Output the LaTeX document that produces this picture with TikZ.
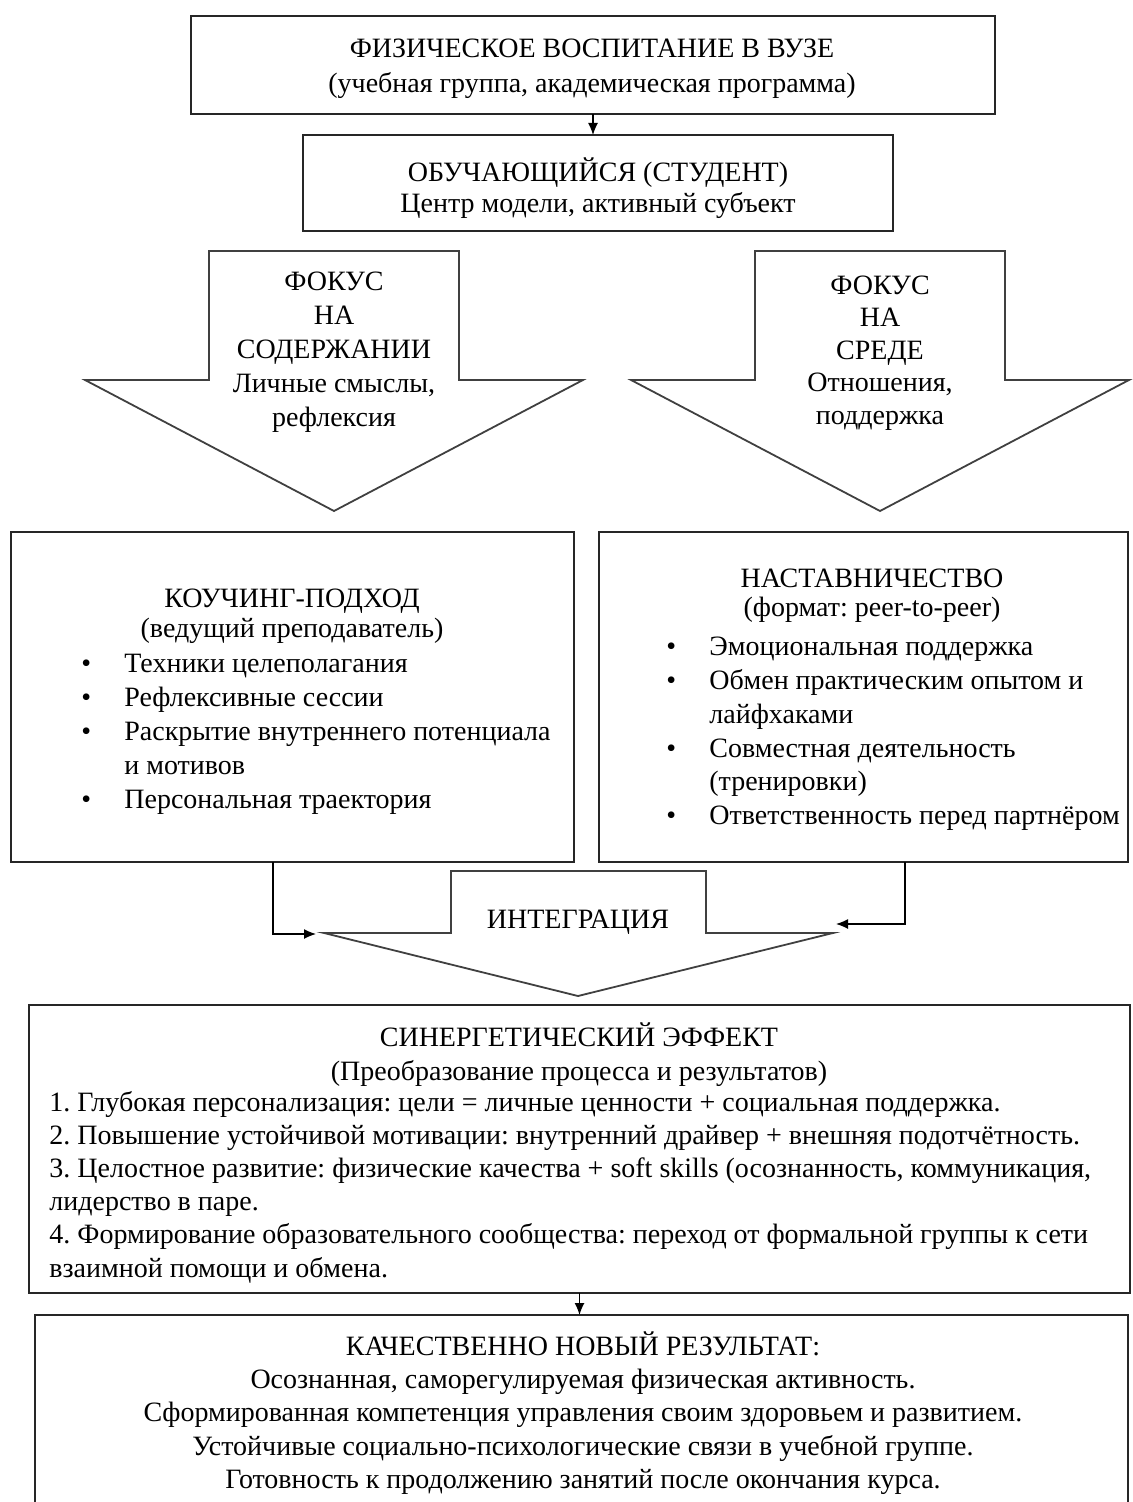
\documentclass[tikz,border=0pt]{standalone}
\usepackage{fontspec}
\setmainfont{Liberation Serif}
\usetikzlibrary{arrows.meta}
\frenchspacing
\begin{document}
\begin{tikzpicture}[x=0.5pt,y=-0.5pt,
  box/.style={draw=black!85, line width=0.75pt, inner sep=0pt, outer sep=0pt},
  blockarrow/.style={draw=black!75, line width=0.9pt, line join=miter},
  conn/.style={draw=black, line width=0.65pt, -{Latex[length=6pt,width=5pt]}},
  txt/.style={inner sep=0pt, align=center},
  lst/.style={inner sep=0pt, align=left, anchor=west}
]
\useasboundingbox (0,0) rectangle (1132,1502);

% top boxes
\node[box, minimum width=402pt, minimum height=49pt] (phys) at (593,65) {};
\node[txt, font=\fontsize{14}{17.5}\selectfont] (physT) at (592,69)
  {ФИЗИЧЕСКОЕ ВОСПИТАНИЕ В ВУЗЕ\\(учебная группа, академическая программа)};
\node[box, minimum width=295pt, minimum height=48pt] (stud) at (598,183) {};
\node[txt, font=\fontsize{14}{15.5}\selectfont] (studT) at (598,188)
  {ОБУЧАЮЩИЙСЯ (СТУДЕНТ)\\Центр модели, активный субъект};
\draw[conn] (phys.south) -- (phys.south |- stud.north);

% focus block arrows
\draw[blockarrow] (209,251) -- (459,251) -- (459,380) -- (583,380) -- (334,511)
  -- (85,380) -- (209,380) -- cycle;
\node[txt, font=\fontsize{14}{17}\selectfont] (focL) at (334,352)
  {ФОКУС\\НА\\СОДЕРЖАНИИ\\Личные смыслы,\\рефлексия};
\draw[blockarrow] (755,251) -- (1005,251) -- (1005,380) -- (1129,380) -- (880,511)
  -- (631,380) -- (755,380) -- cycle;
\node[txt, font=\fontsize{14}{16.3}\selectfont] (focR) at (880,353)
  {ФОКУС\\НА\\СРЕДЕ\\Отношения,\\поддержка};

% coaching / mentoring
\node[box, minimum width=281.5pt, minimum height=165pt] (coach) at (292.5,697) {};
\node[txt, font=\fontsize{14}{15}\selectfont] (coachH) at (292,616)
  {КОУЧИНГ-ПОДХОД\\(ведущий преподаватель)};
\node[lst, font=\fontsize{14}{17}\selectfont] (coachL) at (81,734)
  {\makebox[21.5pt][l]{•}Техники целеполагания\\
   \makebox[21.5pt][l]{•}Рефлексивные сессии\\
   \makebox[21.5pt][l]{•}Раскрытие внутреннего потенциала\\
   \hspace*{21.5pt}и мотивов\\
   \makebox[21.5pt][l]{•}Персональная траектория};

\node[box, minimum width=264.5pt, minimum height=165pt] (ment) at (863.5,697) {};
\node[txt, font=\fontsize{14}{14.5}\selectfont] (mentH) at (872,596)
  {НАСТАВНИЧЕСТВО\\(формат: peer-to-peer)};
\node[lst, font=\fontsize{14}{16.9}\selectfont] (mentL) at (666,734)
  {\makebox[21.5pt][l]{•}Эмоциональная поддержка\\
   \makebox[21.5pt][l]{•}Обмен практическим опытом и\\
   \hspace*{21.5pt}лайфхаками\\
   \makebox[21.5pt][l]{•}Совместная деятельность\\
   \hspace*{21.5pt}(тренировки)\\
   \makebox[21.5pt][l]{•}Ответственность перед партнёром};

% integration
\draw[blockarrow] (451,871) -- (706,871) -- (706,933) -- (833,933) -- (578,996)
  -- (324,933) -- (451,933) -- cycle;
\node[txt, font=\fontsize{14}{17}\selectfont] (intT) at (578,922) {ИНТЕГРАЦИЯ};
\coordinate (lbend) at (273,934);
\coordinate (lend) at (316,934);
\draw[conn] (lbend |- coach.south) -- (lbend) -- (lend);
\coordinate (rbend) at (905,924);
\coordinate (rend) at (836,924);
\draw[conn] (rbend |- ment.south) -- (rbend) -- (rend);

% synergy
\node[box, minimum width=550.5pt, minimum height=144pt] (syn) at (579.5,1149) {};
\node[txt, font=\fontsize{14}{17}\selectfont] (synH) at (579,1055)
  {СИНЕРГЕТИЧЕСКИЙ ЭФФЕКТ\\(Преобразование процесса и результатов)};
\node[lst, font=\fontsize{14}{16.6}\selectfont] (synL) at (49,1187)
  {1. Глубокая персонализация: цели = личные ценности + социальная поддержка.\\
   2. Повышение устойчивой мотивации: внутренний драйвер + внешняя подотчётность.\\
   3. Целостное развитие: физические качества + soft skills (осознанность, коммуникация,\\
   лидерство в паре.\\
   4. Формирование образовательного сообщества: переход от формальной группы к сети\\
   взаимной помощи и обмена.};

% result
\node[box, minimum width=546.5pt, minimum height=95.5pt] (res) at (581.5,1410.5) {};
\node[txt, font=\fontsize{14}{16.6}\selectfont] (resT) at (583,1413)
  {КАЧЕСТВЕННО НОВЫЙ РЕЗУЛЬТАТ:\\
   Осознанная, саморегулируемая физическая активность.\\
   Сформированная компетенция управления своим здоровьем и развитием.\\
   Устойчивые социально-психологические связи в учебной группе.\\
   Готовность к продолжению занятий после окончания курса.};
\draw[conn] (syn.south) -- (syn.south |- res.north);
\end{tikzpicture}
\end{document}
